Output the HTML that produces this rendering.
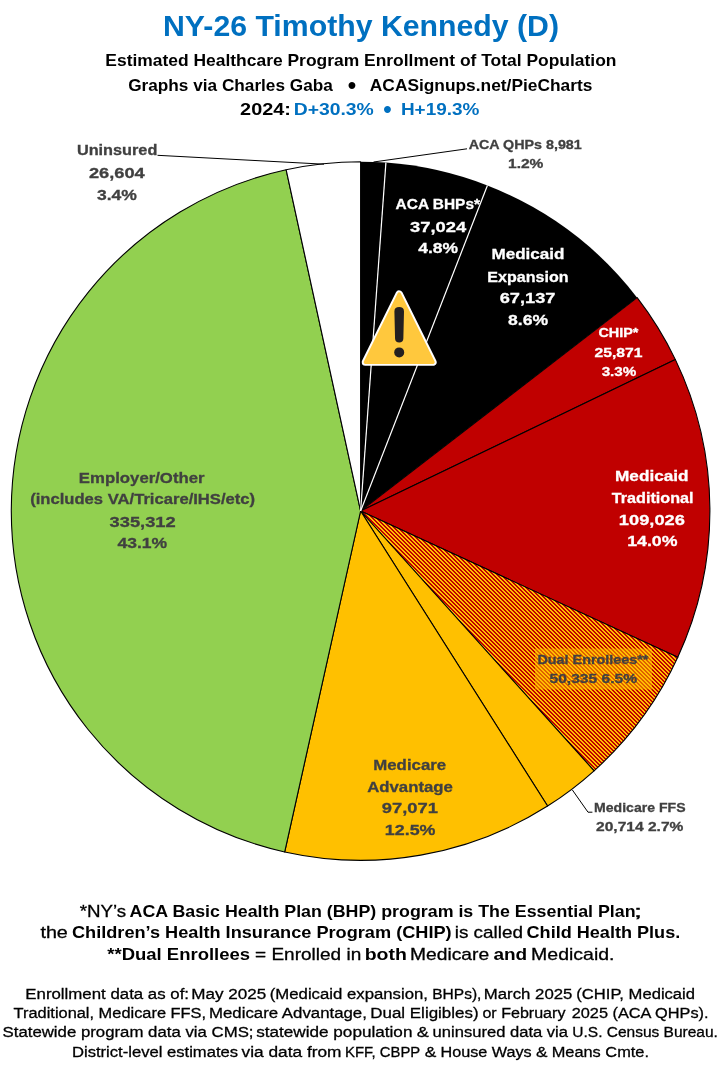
<!DOCTYPE html>
<html lang="en"><head><meta charset="utf-8"><title>NY-26 Timothy Kennedy (D)</title>
<style>
html,body{margin:0;padding:0;background:#fff;}
body{width:720px;height:1070px;overflow:hidden;}
svg{display:block;}
text{font-family:"Liberation Sans",sans-serif;}
.b{font-weight:bold;}
.g{fill:#404040;stroke:#404040;stroke-width:0.3px;}
.w{fill:#ffffff;stroke:#ffffff;stroke-width:0.3px;}
.k{fill:#000000;}
.u{fill:#0070C0;}
.r{stroke:#000;stroke-width:0.3px;}
</style></head><body>
<svg width="720" height="1070" viewBox="0 0 720 1070">
<defs>
<pattern id="hatch" x="2" y="0" width="4" height="4" patternUnits="userSpaceOnUse" shape-rendering="crispEdges">
<rect width="4" height="4" fill="#FFC000"/>
<g fill="#C00000"><rect x="0" y="0" width="2" height="1"/><rect x="1" y="1" width="2" height="1"/><rect x="2" y="2" width="2" height="1"/><rect x="3" y="3" width="1" height="1"/><rect x="0" y="3" width="1" height="1"/></g>
</pattern>
</defs>
<rect width="720" height="1070" fill="#ffffff"/>
<path d="M360.60,511.00 L360.60,161.70 A349.3,349.3 0 0 1 385.91,162.62 Z" fill="#000000"/>
<path d="M360.60,511.00 L385.91,162.62 A349.3,349.3 0 0 1 487.40,185.53 Z" fill="#000000"/>
<path d="M360.60,511.00 L487.40,185.53 A349.3,349.3 0 0 1 637.16,297.63 Z" fill="#000000"/>
<path d="M360.60,511.00 L637.16,297.63 A349.3,349.3 0 0 1 675.40,359.62 Z" fill="#C00000" stroke="#000000" stroke-width="1.1" stroke-linejoin="round"/>
<path d="M360.60,511.00 L675.40,359.62 A349.3,349.3 0 0 1 677.78,657.31 Z" fill="#C00000" stroke="#000000" stroke-width="1.1" stroke-linejoin="round"/>
<path d="M360.60,511.00 L677.78,657.31 A349.3,349.3 0 0 1 594.09,770.79 Z" fill="url(#hatch)" stroke="#000000" stroke-width="1.1" stroke-linejoin="round"/>
<path d="M360.60,511.00 L594.09,770.79 A349.3,349.3 0 0 1 547.58,806.04 Z" fill="#FFC000" stroke="#000000" stroke-width="1.1" stroke-linejoin="round"/>
<path d="M360.60,511.00 L547.58,806.04 A349.3,349.3 0 0 1 284.71,851.96 Z" fill="#FFC000" stroke="#000000" stroke-width="1.1" stroke-linejoin="round"/>
<path d="M360.60,511.00 L284.71,851.96 A349.3,349.3 0 0 1 286.13,169.73 Z" fill="#92D050" stroke="#000000" stroke-width="1.1" stroke-linejoin="round"/>
<path d="M360.60,511.00 L286.13,169.73 A349.3,349.3 0 0 1 360.60,161.70 Z" fill="#FFFFFF" stroke="#000000" stroke-width="1.1" stroke-linejoin="round"/>
<g stroke="#ffffff" stroke-width="1.2" fill="none">
<path d="M360.60,511.00 L385.91,162.62"/>
<path d="M360.60,511.00 L487.40,185.53"/>
</g>
<g stroke="#000" stroke-width="1" fill="none">
<path d="M157.5,155.3 L324,164.2"/>
<path d="M373.5,162 L467,148.8"/>
<path d="M572.4,790 L588,812.2 L592.4,812.2"/>
</g>
<rect x="535" y="648.5" width="117" height="41" fill="#FFC000" fill-opacity="0.5"/>
<g>
<path d="M399.2,293.9 L433.05,362.2 L365.35,362.2 Z" fill="#ffffff" stroke="#ffffff" stroke-width="7.2" stroke-linejoin="round"/>
<path d="M399.2,293.9 L433.05,362.2 L365.35,362.2 Z" fill="#FFC83D" stroke="#FFC83D" stroke-width="3.4" stroke-linejoin="round"/>
<path d="M394.4,311.4 C394.4,308.3 396.3,307.1 399.2,307.1 C402.1,307.1 404,308.3 404,311.4 L403.35,338.6 C403.35,341.4 401.7,342.5 399.2,342.5 C396.7,342.5 395.05,341.4 395.05,338.6 Z" fill="#231F20"/>
<circle cx="399.2" cy="352.4" r="5" fill="#231F20"/>
</g>
<text x="162.99" y="36.3" font-size="30" class="b u" textLength="396.01" lengthAdjust="spacingAndGlyphs">NY-26 Timothy Kennedy (D)</text>
<text x="105.34" y="65.7" font-size="17" class="b k" textLength="511.14" lengthAdjust="spacingAndGlyphs">Estimated Healthcare Program Enrollment of Total Population</text>
<text x="128.19" y="90.5" font-size="17" class="b k" textLength="204.60" lengthAdjust="spacingAndGlyphs">Graphs via Charles Gaba</text>
<text x="351.9" y="93.2" font-size="24" class="b k" text-anchor="middle">&#8226;</text>
<text x="369.87" y="90.5" font-size="17" class="b k" textLength="222.44" lengthAdjust="spacingAndGlyphs">ACASignups.net/PieCharts</text>
<text x="240.11" y="115.0" font-size="17" class="b k" textLength="50.80" lengthAdjust="spacingAndGlyphs">2024:</text>
<text x="293.71" y="115.0" font-size="17" class="b u" textLength="80.10" lengthAdjust="spacingAndGlyphs">D+30.3%</text>
<text x="387.4" y="117.1" font-size="24" class="b u" text-anchor="middle">&#8226;</text>
<text x="400.93" y="115.0" font-size="17" class="b u" textLength="78.47" lengthAdjust="spacingAndGlyphs">H+19.3%</text>
<text x="76.92" y="155.4" font-size="15.2" class="b g" textLength="80.45" lengthAdjust="spacingAndGlyphs">Uninsured</text>
<text x="88.97" y="177.8" font-size="15.2" class="b g" textLength="55.73" lengthAdjust="spacingAndGlyphs">26,604</text>
<text x="97.00" y="199.6" font-size="15.2" class="b g" textLength="39.96" lengthAdjust="spacingAndGlyphs">3.4%</text>
<text x="468.65" y="148.6" font-size="13.1" class="b g" textLength="113.15" lengthAdjust="spacingAndGlyphs">ACA QHPs 8,981</text>
<text x="508.02" y="167.6" font-size="13.1" class="b g" textLength="35.39" lengthAdjust="spacingAndGlyphs">1.2%</text>
<text x="395.62" y="209.4" font-size="15.2" class="b w" textLength="84.40" lengthAdjust="spacingAndGlyphs">ACA BHPs*</text>
<text x="409.98" y="231.6" font-size="15.2" class="b w" textLength="56.12" lengthAdjust="spacingAndGlyphs">37,024</text>
<text x="418.34" y="253.0" font-size="15.2" class="b w" textLength="39.72" lengthAdjust="spacingAndGlyphs">4.8%</text>
<text x="491.46" y="259.4" font-size="15.2" class="b w" textLength="73.07" lengthAdjust="spacingAndGlyphs">Medicaid</text>
<text x="487.32" y="282.0" font-size="15.2" class="b w" textLength="81.27" lengthAdjust="spacingAndGlyphs">Expansion</text>
<text x="499.73" y="303.4" font-size="15.2" class="b w" textLength="55.67" lengthAdjust="spacingAndGlyphs">67,137</text>
<text x="508.04" y="325.4" font-size="15.2" class="b w" textLength="40.02" lengthAdjust="spacingAndGlyphs">8.6%</text>
<text x="598.41" y="337.4" font-size="13.1" class="b w" textLength="40.00" lengthAdjust="spacingAndGlyphs">CHIP*</text>
<text x="594.46" y="356.6" font-size="13.1" class="b w" textLength="47.98" lengthAdjust="spacingAndGlyphs">25,871</text>
<text x="601.65" y="375.6" font-size="13.1" class="b w" textLength="34.75" lengthAdjust="spacingAndGlyphs">3.3%</text>
<text x="615.05" y="480.5" font-size="15.2" class="b w" textLength="73.58" lengthAdjust="spacingAndGlyphs">Medicaid</text>
<text x="611.82" y="502.5" font-size="15.2" class="b w" textLength="81.81" lengthAdjust="spacingAndGlyphs">Traditional</text>
<text x="618.85" y="524.5" font-size="15.2" class="b w" textLength="66.01" lengthAdjust="spacingAndGlyphs">109,026</text>
<text x="627.18" y="546.3" font-size="15.2" class="b w" textLength="50.28" lengthAdjust="spacingAndGlyphs">14.0%</text>
<text x="537.44" y="663.8" font-size="13.1" class="b g" textLength="110.98" lengthAdjust="spacingAndGlyphs">Dual Enrollees**</text>
<text x="549.52" y="682.7" font-size="13.1" class="b g" textLength="87.59" lengthAdjust="spacingAndGlyphs">50,335 6.5%</text>
<text x="594.06" y="811.6" font-size="13.1" class="b g" textLength="91.49" lengthAdjust="spacingAndGlyphs">Medicare FFS</text>
<text x="596.06" y="830.6" font-size="13.1" class="b g" textLength="87.35" lengthAdjust="spacingAndGlyphs">20,714 2.7%</text>
<text x="373.28" y="769.6" font-size="15.2" class="b g" textLength="72.90" lengthAdjust="spacingAndGlyphs">Medicare</text>
<text x="367.18" y="791.6" font-size="15.2" class="b g" textLength="85.79" lengthAdjust="spacingAndGlyphs">Advantage</text>
<text x="381.76" y="813.0" font-size="15.2" class="b g" textLength="56.15" lengthAdjust="spacingAndGlyphs">97,071</text>
<text x="384.88" y="835.0" font-size="15.2" class="b g" textLength="50.59" lengthAdjust="spacingAndGlyphs">12.5%</text>
<text x="78.88" y="482.7" font-size="15.2" class="b g" textLength="125.67" lengthAdjust="spacingAndGlyphs">Employer/Other</text>
<text x="30.18" y="504.3" font-size="15.2" class="b g" textLength="224.94" lengthAdjust="spacingAndGlyphs">(includes VA/Tricare/IHS/etc)</text>
<text x="109.58" y="526.7" font-size="15.2" class="b g" textLength="66.15" lengthAdjust="spacingAndGlyphs">335,312</text>
<text x="117.43" y="548.3" font-size="15.2" class="b g" textLength="49.73" lengthAdjust="spacingAndGlyphs">43.1%</text>
<text x="79.70" y="916.7" font-size="17" class="k r" textLength="46.47" lengthAdjust="spacingAndGlyphs">*NY&#8217;s</text>
<text x="129.56" y="916.7" font-size="17" class="b k" textLength="506.05" lengthAdjust="spacingAndGlyphs">ACA Basic Health Plan (BHP) program is The Essential Plan</text>
<text x="633.75" y="916.7" font-size="17" class="k r" textLength="8.49" lengthAdjust="spacingAndGlyphs">;</text>
<text x="40.40" y="937.7" font-size="17" class="k r" textLength="27.48" lengthAdjust="spacingAndGlyphs">the</text>
<text x="71.96" y="937.7" font-size="17" class="b k" textLength="379.65" lengthAdjust="spacingAndGlyphs">Children&#8217;s Health Insurance Program (CHIP)</text>
<text x="454.74" y="937.7" font-size="17" class="k r" textLength="68.18" lengthAdjust="spacingAndGlyphs">is called</text>
<text x="526.56" y="937.7" font-size="17" class="b k" textLength="153.69" lengthAdjust="spacingAndGlyphs">Child Health Plus.</text>
<text x="107.25" y="960.0" font-size="17" class="b k" textLength="142.81" lengthAdjust="spacingAndGlyphs">**Dual Enrollees</text>
<text x="255.07" y="960.0" font-size="17" class="k r" textLength="106.16" lengthAdjust="spacingAndGlyphs">= Enrolled in</text>
<text x="364.72" y="960.0" font-size="17" class="b k" textLength="42.19" lengthAdjust="spacingAndGlyphs">both</text>
<text x="410.12" y="960.0" font-size="17" class="k r" textLength="79.03" lengthAdjust="spacingAndGlyphs">Medicare</text>
<text x="493.44" y="960.0" font-size="17" class="b k" textLength="33.81" lengthAdjust="spacingAndGlyphs">and</text>
<text x="531.10" y="960.0" font-size="17" class="k r" textLength="83.38" lengthAdjust="spacingAndGlyphs">Medicaid.</text>
<text x="25.32" y="999.0" font-size="15.5" class="k r" textLength="163.72" lengthAdjust="spacingAndGlyphs">Enrollment data as of:</text>
<text x="191.30" y="999.0" font-size="15.5" class="k r" textLength="75.02" lengthAdjust="spacingAndGlyphs">May 2025</text>
<text x="269.76" y="999.0" font-size="15.5" class="k r" textLength="158.24" lengthAdjust="spacingAndGlyphs">(Medicaid expansion,</text>
<text x="432.23" y="999.0" font-size="15.5" class="k r" textLength="49.17" lengthAdjust="spacingAndGlyphs">BHPs),</text>
<text x="483.82" y="999.0" font-size="15.5" class="k r" textLength="88.58" lengthAdjust="spacingAndGlyphs">March 2025</text>
<text x="576.29" y="999.0" font-size="15.5" class="k r" textLength="118.76" lengthAdjust="spacingAndGlyphs">(CHIP, Medicaid</text>
<text x="13.63" y="1018.3" font-size="15.5" class="k r" textLength="192.43" lengthAdjust="spacingAndGlyphs">Traditional, Medicare FFS,</text>
<text x="209.03" y="1018.3" font-size="15.5" class="k r" textLength="157.87" lengthAdjust="spacingAndGlyphs">Medicare Advantage,</text>
<text x="370.31" y="1018.3" font-size="15.5" class="k r" textLength="108.24" lengthAdjust="spacingAndGlyphs">Dual Eligibles)</text>
<text x="482.43" y="1018.3" font-size="15.5" class="k r" textLength="83.01" lengthAdjust="spacingAndGlyphs">or February</text>
<text x="571.68" y="1018.3" font-size="15.5" class="k r" textLength="136.89" lengthAdjust="spacingAndGlyphs">2025 (ACA QHPs).</text>
<text x="2.54" y="1036.7" font-size="15.5" class="k r" textLength="250.97" lengthAdjust="spacingAndGlyphs">Statewide program data via CMS;</text>
<text x="256.22" y="1036.7" font-size="15.5" class="k r" textLength="156.19" lengthAdjust="spacingAndGlyphs">statewide population</text>
<text x="416.86" y="1036.7" font-size="15.5" class="k r" textLength="12.12" lengthAdjust="spacingAndGlyphs">&amp;</text>
<text x="432.62" y="1036.7" font-size="15.5" class="k r" textLength="135.38" lengthAdjust="spacingAndGlyphs">uninsured data via</text>
<text x="572.30" y="1036.7" font-size="15.5" class="k r" textLength="145.61" lengthAdjust="spacingAndGlyphs">U.S. Census Bureau.</text>
<text x="71.94" y="1056.7" font-size="15.5" class="k r" textLength="166.16" lengthAdjust="spacingAndGlyphs">District-level estimates</text>
<text x="241.64" y="1056.7" font-size="15.5" class="k r" textLength="99.90" lengthAdjust="spacingAndGlyphs">via data from</text>
<text x="345.11" y="1056.7" font-size="15.5" class="k r" textLength="75.16" lengthAdjust="spacingAndGlyphs">KFF, CBPP</text>
<text x="424.69" y="1056.7" font-size="15.5" class="k r" textLength="11.58" lengthAdjust="spacingAndGlyphs">&amp;</text>
<text x="440.48" y="1056.7" font-size="15.5" class="k r" textLength="91.10" lengthAdjust="spacingAndGlyphs">House Ways</text>
<text x="536.10" y="1056.7" font-size="15.5" class="k r" textLength="11.47" lengthAdjust="spacingAndGlyphs">&amp;</text>
<text x="551.66" y="1056.7" font-size="15.5" class="k r" textLength="97.34" lengthAdjust="spacingAndGlyphs">Means Cmte.</text>
</svg></body></html>
